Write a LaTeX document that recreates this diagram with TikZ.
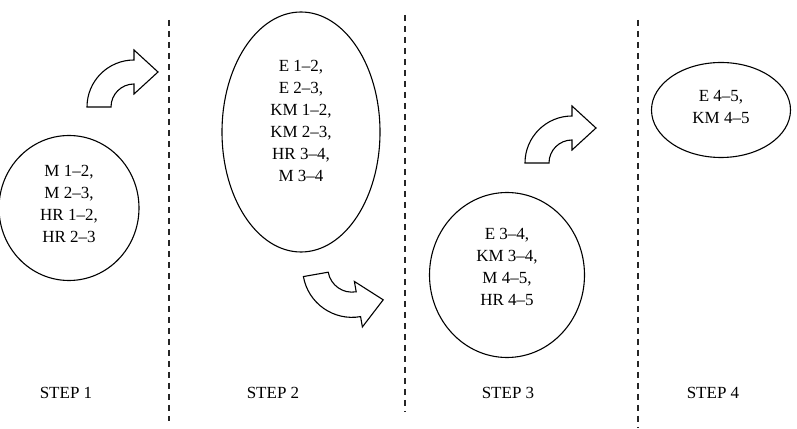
\documentclass[tikz,border=0pt]{standalone}
\usepackage{fontspec}
\setmainfont{Liberation Serif}
\usepackage{tikz}
\usetikzlibrary{
    shapes.geometric
}
\tikzset{
    stage/.style={
        draw,
        ellipse,
        line width=1.1pt,
        inner sep=0pt
    }
}
\tikzset{
    stagetext/.style={
        align=center,
        inner sep=0pt,
        font=\fontsize{17}{22}\selectfont
    }
}
\tikzset{
    steplabel/.style={
        font=\fontsize{17}{20}\selectfont
    }
}
\tikzset{
    divider/.style={
        draw=black!85,
        line width=1.3pt,
        dash pattern=on 6pt off 5pt
    }
}
\tikzset{
    bentarrow/.pic={
        \draw[line width=1.1pt, fill=white]
            (-47,0) arc[start angle=180, end angle=90, radius=47pt]
            -- (0,57) -- (24,35) -- (0,13) -- (0,23)
            arc[start angle=90, end angle=180, radius=23pt]
            -- cycle;
    }
}

\begin{document}
\begin{tikzpicture}[
    x=1pt,
    y=1pt
]
\useasboundingbox (0,0) rectangle (797,428);

\draw[divider] (169,408) -- (169,7);
\draw[divider] (405,413) -- (405,16);
\draw[divider] (638,408) -- (638,0);

\node[stage, minimum width=140pt, minimum height=145pt] (stage1) at (69,220) {};
\node[stage, minimum width=158pt, minimum height=240pt] (stage2) at (301,296) {};
\node[stage, minimum width=155pt, minimum height=165pt] (stage3) at (507,153) {};
\node[stage, minimum width=139pt, minimum height=95pt] (stage4) at (721,318) {};

\node[stagetext] (text1) at ([yshift=4pt]stage1.center)
    {M 1--2,\\M 2--3,\\HR 1--2,\\HR 2--3};
\node[stagetext] (text2) at ([yshift=11pt]stage2.center)
    {E 1--2,\\E 2--3,\\KM 1--2,\\KM 2--3,\\HR 3--4,\\M 3--4};
\node[stagetext] (text3) at ([yshift=8pt]stage3.center)
    {E 3--4,\\KM 3--4,\\M 4--5,\\HR 4--5};
\node[stagetext] (text4) at ([yshift=3pt]stage4.center)
    {E 4--5,\\KM 4--5};

\pic at (134,321) {bentarrow};
\pic[rotate=10, scale=1.05, yscale=-1] at (352,160) {bentarrow};
\pic at (572,265) {bentarrow};

\node[steplabel] (step1) at (66,35) {STEP 1};
\node[steplabel] (step2) at (273,35) {STEP 2};
\node[steplabel] (step3) at (508,35) {STEP 3};
\node[steplabel] (step4) at (713,35) {STEP 4};

\end{tikzpicture}
\end{document}
